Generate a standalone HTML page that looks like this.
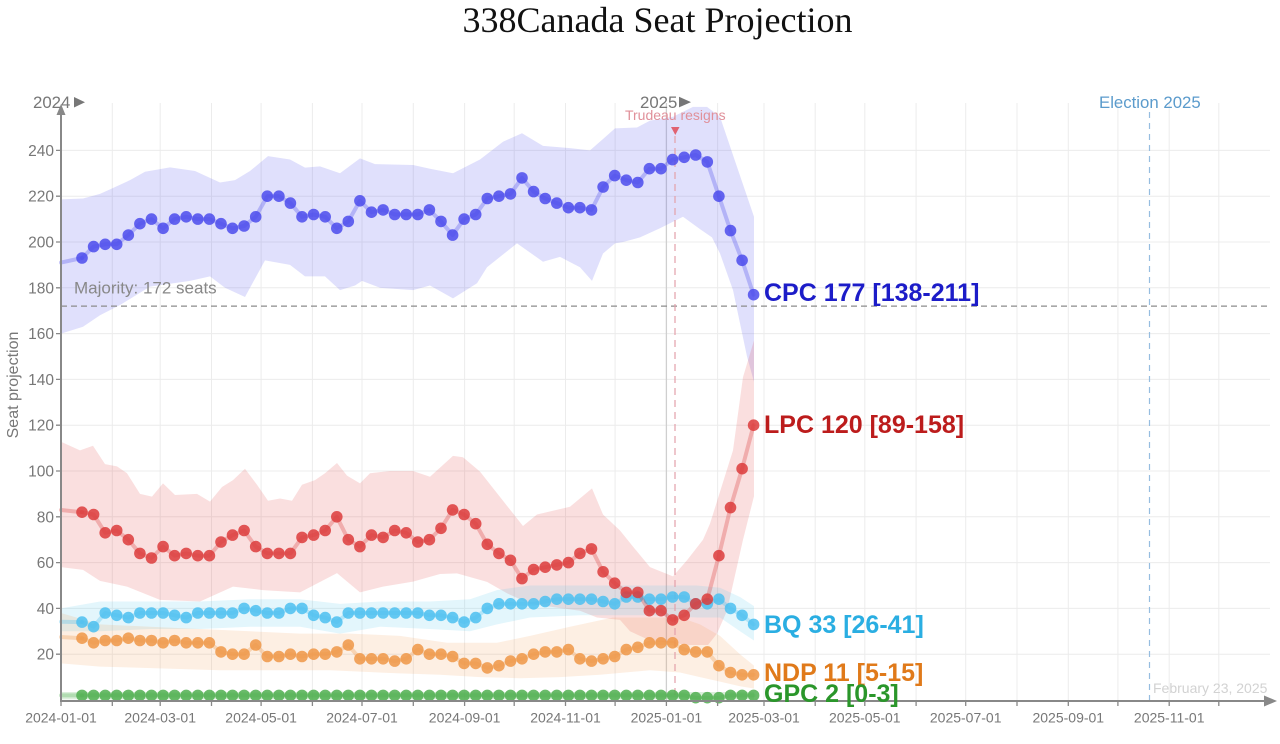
<!DOCTYPE html>
<html>
<head>
<meta charset="utf-8">
<style>
html,body{margin:0;padding:0;background:#fff;}
svg{display:block;}
text{font-family:"Liberation Sans",Arial,sans-serif;}
.ser{fill:none;stroke-width:4;stroke-opacity:0.3;stroke-linejoin:round;stroke-linecap:round;}
</style>
</head>
<body>
<svg width="1280" height="744" viewBox="0 0 1280 744" xmlns="http://www.w3.org/2000/svg">
<defs>
<marker id="mC" markerUnits="userSpaceOnUse" markerWidth="14" markerHeight="14" refX="7" refY="7" overflow="visible"><circle cx="7" cy="7" r="5.8" fill="#4b4bec" fill-opacity="0.85"/></marker>
<marker id="mL" markerUnits="userSpaceOnUse" markerWidth="14" markerHeight="14" refX="7" refY="7" overflow="visible"><circle cx="7" cy="7" r="5.8" fill="#dc3c3c" fill-opacity="0.85"/></marker>
<marker id="mB" markerUnits="userSpaceOnUse" markerWidth="14" markerHeight="14" refX="7" refY="7" overflow="visible"><circle cx="7" cy="7" r="5.8" fill="#4cc0f0" fill-opacity="0.85"/></marker>
<marker id="mN" markerUnits="userSpaceOnUse" markerWidth="14" markerHeight="14" refX="7" refY="7" overflow="visible"><circle cx="7" cy="7" r="5.8" fill="#ee9646" fill-opacity="0.85"/></marker>
<marker id="mG" markerUnits="userSpaceOnUse" markerWidth="14" markerHeight="14" refX="7" refY="7" overflow="visible"><circle cx="7" cy="7" r="5.8" fill="#50af50" fill-opacity="0.85"/></marker>
</defs>
<rect width="1280" height="744" fill="#fff"/>

<!-- Title -->
<text x="657.5" y="32" text-anchor="middle" style="font-family:'Liberation Serif','Times New Roman',serif" font-size="36" fill="#111">338Canada Seat Projection</text>

<!-- Grid -->
<path d="M61 150.4H1270M61 196.2H1270M61 242H1270M61 287.8H1270M61 333.6H1270M61 379.4H1270M61 425.2H1270M61 471H1270M61 516.8H1270M61 562.6H1270M61 608.4H1270M61 654.2H1270" stroke="#ececec" stroke-width="1" fill="none"/>
<path d="M112.3 103V700M160.2 103V700M211.5 103V700M261.1 103V700M312.4 103V700M362 103V700M413.3 103V700M464.6 103V700M514.2 103V700M565.5 103V700M615.1 103V700M717.6 103V700M764 103V700M815.2 103V700M864.8 103V700M916.1 103V700M965.7 103V700M1017 103V700M1068.3 103V700M1117.9 103V700M1169.2 103V700M1218.8 103V700" stroke="#ececec" stroke-width="1" fill="none"/>
<path d="M666.4 103V700" stroke="#cfcfcf" stroke-width="1.3" fill="none"/>

<!-- Bands (x in px, y in seats) -->
<g transform="matrix(1 0 0 -2.29 0 700)">
<polygon fill="rgb(100,100,240)" fill-opacity="0.2" points="61,218.6 83,219 100,221 110,223 130,227 145,230.7 170,232.6 195,231 220,226 235,227 250,231 268,237.5 290,236 305,232.5 320,233 340,230 360,236.5 375,234 413,233.6 430,232 453,230 480,236 503,243.8 522,247.5 543,242 570,241 590,240 603,245 615,249.6 637,250 650,253 673,254.7 693,259 707,259 720,254.7 737,232.8 754,211 754,139 747,150 733,179 720,195 712,202 700,205.6 683,211 660,206 640,202 623,200 615,199.4 603,195 592,183 580,189 560,193.5 543,191.4 517,199.4 487,189 477,182 453,175.4 430,181 413,179 380,180 362,183 355,181 340,179 325,185 305,185 290,190 265,192 245,176 225,180 210,185 190,183 150,180.5 120,172.5 100,168 83,163 61,160"/>
<polygon fill="rgb(230,80,80)" fill-opacity="0.18" points="61,112.8 80,109 93,111 105,103 117,102 127,99 140,90 152,88.8 163,94.6 175,89.5 197,90 210,86.6 222,93 233,96 245,101 257,94 268,87 280,88 292,87 302,94 315,96 325,99 337,103.5 347,98 360,94.6 370,99 390,100 413,100 430,97.5 453,106.6 463,106 480,99.7 503,87 523,76 537,81 570,84.4 592,92.4 603,81 620,74 633,67 650,58 673,54 687,61 703,70 710,77 733,109 743,141 754,157 754,89 743,70 727,39 717,29 708,24 690,24 670,25 650,26 630,30 620,35 597,36 580,39 530,42 507,46.6 487,51.6 457,55.3 440,55 413,51.7 383,49.5 360,47 337,55.4 300,47 263,48 233,49.5 200,43 160,43.7 127,49.5 100,52 83,56.8 61,58"/>
<polygon fill="rgb(90,200,240)" fill-opacity="0.17" points="61,40 100,43 150,43 200,43 250,44 300,44 340,42 380,43 430,43 470,44 497,48 530,50 580,50 613,50 650,50 697,50 720,49 740,45 754,41 754,26 740,30 720,36 697,36 650,37 613,37 580,37 530,36 497,33 470,30 430,31 380,32 340,29 300,32 250,32 200,31 150,31 100,30 61,30"/>
<polygon fill="rgb(245,160,90)" fill-opacity="0.17" points="61,38 100,33 150,32 200,31 250,30 300,29 350,29 400,28 447,25 497,25 530,28 570,32 613,36 650,36 680,36 700,33 720,28 740,20 754,15 754,5 740,6 720,8 700,10 680,12 650,13 600,11 560,10 520,9.5 480,10 440,11 400,11.6 330,13 220,13 100,14.6 61,16"/>
<polygon fill="rgb(90,180,90)" fill-opacity="0.22" points="61,3.5 754,3.5 754,0.3 61,0.3"/>
</g>

<!-- Reference lines -->
<line x1="61" y1="306.1" x2="1270" y2="306.1" stroke="#8c8c8c" stroke-width="1.2" stroke-dasharray="6 4"/>
<line x1="675" y1="136" x2="675" y2="700" stroke="#e3a0aa" stroke-width="1.2" stroke-dasharray="7 5"/>
<line x1="1149.5" y1="112" x2="1149.5" y2="700" stroke="#96bde0" stroke-width="1.2" stroke-dasharray="6 5"/>

<!-- GPC -->
<polyline class="ser" stroke="rgb(80,175,80)" points="61,695.4 82,695.4"/>
<polyline class="ser" stroke="rgb(80,175,80)" marker-start="url(#mG)" marker-mid="url(#mG)" marker-end="url(#mG)" points="82,695.4 93.6,695.4 105.2,695.4 116.7,695.4 128.3,695.4 139.9,695.4 151.5,695.4 163.1,695.4 174.6,695.4 186.2,695.4 197.8,695.4 209.4,695.4 221,695.4 232.5,695.4 244.1,695.4 255.7,695.4 267.3,695.4 278.9,695.4 290.4,695.4 302,695.4 313.6,695.4 325.2,695.4 336.8,695.4 348.3,695.4 359.9,695.4 371.5,695.4 383.1,695.4 394.7,695.4 406.2,695.4 417.8,695.4 429.4,695.4 441,695.4 452.6,695.4 464.1,695.4 475.7,695.4 487.3,695.4 498.9,695.4 510.5,695.4 522,695.4 533.6,695.4 545.2,695.4 556.8,695.4 568.4,695.4 579.9,695.4 591.5,695.4 603.1,695.4 614.7,695.4 626.3,695.4 637.8,695.4 649.4,695.4 661,695.4 672.6,695.4 684.2,695.4 695.7,697.7 707.3,697.7 718.9,697.7 730.5,695.4 742.1,695.4 753.6,695.4"/>

<!-- NDP -->
<polyline class="ser" stroke="rgb(238,150,70)" points="61,637 82,638.2"/>
<polyline class="ser" stroke="rgb(238,150,70)" marker-start="url(#mN)" marker-mid="url(#mN)" marker-end="url(#mN)" points="82,638.2 93.6,642.8 105.2,640.5 116.7,640.5 128.3,638.2 139.9,640.5 151.5,640.5 163.1,642.8 174.6,640.5 186.2,642.8 197.8,642.8 209.4,642.8 221,651.9 232.5,654.2 244.1,654.2 255.7,645 267.3,656.5 278.9,656.5 290.4,654.2 302,656.5 313.6,654.2 325.2,654.2 336.8,651.9 348.3,645 359.9,658.8 371.5,658.8 383.1,658.8 394.7,661.1 406.2,658.8 417.8,649.6 429.4,654.2 441,654.2 452.6,656.5 464.1,663.4 475.7,663.4 487.3,667.9 498.9,665.7 510.5,661.1 522,658.8 533.6,654.2 545.2,651.9 556.8,651.9 568.4,649.6 579.9,658.8 591.5,661.1 603.1,658.8 614.7,656.5 626.3,649.6 637.8,647.3 649.4,642.8 661,642.8 672.6,642.8 684.2,649.6 695.7,651.9 707.3,651.9 718.9,665.7 730.5,672.5 742.1,674.8 753.6,674.8"/>

<!-- BQ -->
<polyline class="ser" stroke="rgb(70,190,240)" points="61,621.7 82,622.1"/>
<polyline class="ser" stroke="rgb(70,190,240)" marker-start="url(#mB)" marker-mid="url(#mB)" marker-end="url(#mB)" points="82,622.1 93.6,626.7 105.2,613 116.7,615.3 128.3,617.6 139.9,613 151.5,613 163.1,613 174.6,615.3 186.2,617.6 197.8,613 209.4,613 221,613 232.5,613 244.1,608.4 255.7,610.7 267.3,613 278.9,613 290.4,608.4 302,608.4 313.6,615.3 325.2,617.6 336.8,622.1 348.3,613 359.9,613 371.5,613 383.1,613 394.7,613 406.2,613 417.8,613 429.4,615.3 441,615.3 452.6,617.6 464.1,622.1 475.7,617.6 487.3,608.4 498.9,603.8 510.5,603.8 522,603.8 533.6,603.8 545.2,601.5 556.8,599.2 568.4,599.2 579.9,599.2 591.5,599.2 603.1,601.5 614.7,603.8 626.3,597 637.8,597 649.4,599.2 661,599.2 672.6,597 684.2,597 695.7,603.8 707.3,603.8 718.9,599.2 730.5,608.4 742.1,615.3 753.6,624.4"/>

<!-- LPC -->
<polyline class="ser" stroke="rgb(220,60,60)" points="61,510 82,512.2"/>
<polyline class="ser" stroke="rgb(220,60,60)" marker-start="url(#mL)" marker-mid="url(#mL)" marker-end="url(#mL)" points="82,512.2 93.6,514.5 105.2,532.8 116.7,530.5 128.3,539.7 139.9,553.4 151.5,558 163.1,546.6 174.6,555.7 186.2,553.4 197.8,555.7 209.4,555.7 221,542 232.5,535.1 244.1,530.5 255.7,546.6 267.3,553.4 278.9,553.4 290.4,553.4 302,537.4 313.6,535.1 325.2,530.5 336.8,516.8 348.3,539.7 359.9,546.6 371.5,535.1 383.1,537.4 394.7,530.5 406.2,532.8 417.8,542 429.4,539.7 441,528.3 452.6,509.9 464.1,514.5 475.7,523.7 487.3,544.3 498.9,553.4 510.5,560.3 522,578.6 533.6,569.5 545.2,567.2 556.8,564.9 568.4,562.6 579.9,553.4 591.5,548.9 603.1,571.8 614.7,583.2 626.3,592.4 637.8,592.4 649.4,610.7 661,610.7 672.6,619.9 684.2,615.3 695.7,603.8 707.3,599.2 718.9,555.7 730.5,507.6 742.1,468.7 753.6,425.2"/>

<!-- CPC -->
<polyline class="ser" stroke="rgb(75,75,236)" points="61,262.6 82,258"/>
<polyline class="ser" stroke="rgb(75,75,236)" marker-start="url(#mC)" marker-mid="url(#mC)" marker-end="url(#mC)" points="82,258 93.6,246.6 105.2,244.3 116.7,244.3 128.3,235.1 139.9,223.7 151.5,219.1 163.1,228.3 174.6,219.1 186.2,216.8 197.8,219.1 209.4,219.1 221,223.7 232.5,228.3 244.1,226 255.7,216.8 267.3,196.2 278.9,196.2 290.4,203.1 302,216.8 313.6,214.5 325.2,216.8 336.8,228.3 348.3,221.4 359.9,200.8 371.5,212.2 383.1,209.9 394.7,214.5 406.2,214.5 417.8,214.5 429.4,209.9 441,221.4 452.6,235.1 464.1,219.1 475.7,214.5 487.3,198.5 498.9,196.2 510.5,193.9 522,177.9 533.6,191.6 545.2,198.5 556.8,203.1 568.4,207.7 579.9,207.7 591.5,209.9 603.1,187 614.7,175.6 626.3,180.2 637.8,182.5 649.4,168.7 661,168.7 672.6,159.6 684.2,157.3 695.7,155 707.3,161.9 718.9,196.2 730.5,230.6 742.1,260.3 753.6,294.7"/>

<!-- Axes -->
<line x1="61" y1="112" x2="61" y2="701" stroke="#888" stroke-width="2"/>
<polygon points="61,104 56.5,115 65.5,115" fill="#888"/>
<line x1="60" y1="701" x2="1265" y2="701" stroke="#888" stroke-width="2"/>
<polygon points="1277,701 1264,695.5 1264,706.5" fill="#888"/>
<path d="M61 701v5M112.3 701v5M160.2 701v5M211.5 701v5M261.1 701v5M312.4 701v5M362 701v5M413.3 701v5M464.6 701v5M514.2 701v5M565.5 701v5M615.1 701v5M666.4 701v5M717.6 701v5M764 701v5M815.2 701v5M864.8 701v5M916.1 701v5M965.7 701v5M1017 701v5M1068.3 701v5M1117.9 701v5M1169.2 701v5M1218.8 701v5" stroke="#888" stroke-width="1.3" fill="none"/>
<path d="M56 150.4h5M56 196.2h5M56 242h5M56 287.8h5M56 333.6h5M56 379.4h5M56 425.2h5M56 471h5M56 516.8h5M56 562.6h5M56 608.4h5M56 654.2h5" stroke="#888" stroke-width="1.3" fill="none"/>

<!-- Y tick labels -->
<g font-size="15.5" fill="#777" text-anchor="end">
<text x="54" y="659.7">20</text>
<text x="54" y="613.9">40</text>
<text x="54" y="568.1">60</text>
<text x="54" y="522.3">80</text>
<text x="54" y="476.5">100</text>
<text x="54" y="430.7">120</text>
<text x="54" y="384.9">140</text>
<text x="54" y="339.1">160</text>
<text x="54" y="293.3">180</text>
<text x="54" y="247.5">200</text>
<text x="54" y="201.7">220</text>
<text x="54" y="155.9">240</text>
</g>
<text transform="translate(18,385) rotate(-90)" text-anchor="middle" font-size="16" fill="#777">Seat projection</text>

<!-- X tick labels -->
<g font-size="14" fill="#777" text-anchor="middle">
<text x="61" y="722.5">2024-01-01</text>
<text x="160.2" y="722.5">2024-03-01</text>
<text x="261.1" y="722.5">2024-05-01</text>
<text x="362" y="722.5">2024-07-01</text>
<text x="464.6" y="722.5">2024-09-01</text>
<text x="565.5" y="722.5">2024-11-01</text>
<text x="666.4" y="722.5">2025-01-01</text>
<text x="764" y="722.5">2025-03-01</text>
<text x="864.8" y="722.5">2025-05-01</text>
<text x="965.7" y="722.5">2025-07-01</text>
<text x="1068.3" y="722.5">2025-09-01</text>
<text x="1169.2" y="722.5">2025-11-01</text>
</g>

<!-- Top annotations -->
<text x="33" y="108" font-size="16.8" fill="#777">2024</text>
<polygon points="74,97 74,107.5 85,102.2" fill="#777"/>
<text x="640" y="108" font-size="16.8" fill="#777">2025</text>
<polygon points="679,96.8 679,107.4 691,102.1" fill="#777"/>
<text x="675.3" y="120" text-anchor="middle" font-size="14" fill="#e0909a">Trudeau resigns</text>
<polygon points="671,127 679.5,127 675.3,135" fill="#e06272"/>
<text x="1099" y="108" font-size="16.8" fill="#5b9bcc">Election 2025</text>
<text x="74" y="293.5" font-size="17" fill="#888">Majority: 172 seats</text>
<text x="1153" y="693" font-size="14" fill="#d2d2d2">February 23, 2025</text>

<!-- Series labels -->
<g font-size="25" font-weight="bold">
<text x="764" y="301" fill="#1c1cc8">CPC 177 [138-211]</text>
<text x="764" y="433" fill="#bc1c1c">LPC 120 [89-158]</text>
<text x="764" y="633" fill="#2aaee2">BQ 33 [26-41]</text>
<text x="764" y="681" fill="#e07a1a">NDP 11 [5-15]</text>
<text x="764" y="702" fill="#2a962a">GPC 2 [0-3]</text>
</g>
</svg>
</body>
</html>
